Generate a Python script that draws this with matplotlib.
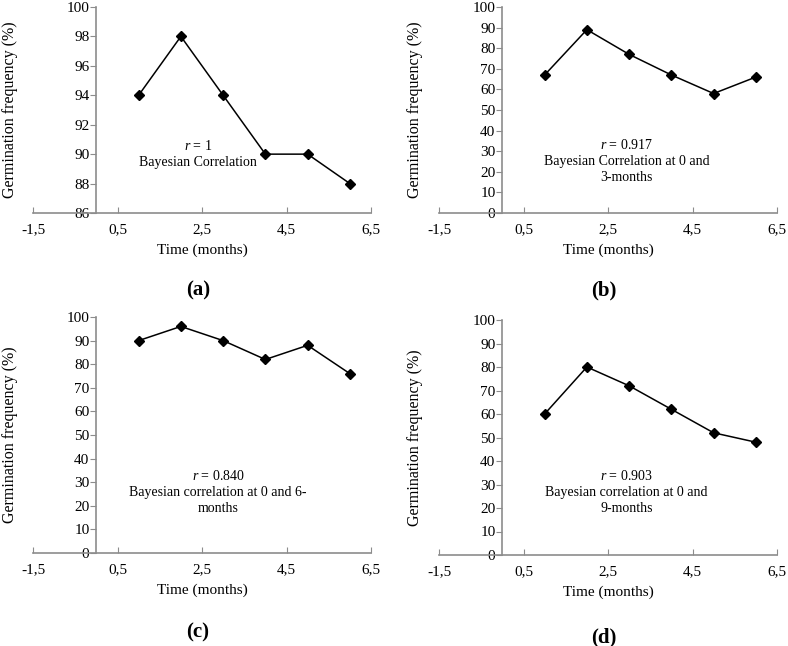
import matplotlib
matplotlib.use("Agg")
import matplotlib.pyplot as plt

plt.rcParams['font.family'] = ['Liberation Serif', 'DejaVu Serif']
plt.rcParams['mathtext.fontset'] = 'custom'
plt.rcParams['mathtext.rm'] = 'Liberation Serif'
plt.rcParams['mathtext.it'] = 'Liberation Serif:italic'

# data
months = [1, 2, 3, 4, 5, 6]
germ_a = [94, 98, 94, 90, 90, 88]
germ_b = [67, 89, 77, 67, 58, 66]
germ_c = [90, 96, 90, 82, 88, 76]
germ_d = [60, 80, 72, 62, 52, 48]

xticks = [-1.5, 0.5, 2.5, 4.5, 6.5]
xtick_labels = ["-1,5", "0,5", "2,5", "4,5", "6,5"]

notes = ["$\\it{r}$ = 1\nBayesian Correlation",
         "$\\it{r}$ = 0.917\nBayesian Correlation at 0 and\n3-months",
         "$\\it{r}$ = 0.840\nBayesian correlation at 0 and 6-\nmonths",
         "$\\it{r}$ = 0.903\nBayesian correlation at 0 and\n9-months"]
panel_tags = ["(a)", "(b)", "(c)", "(d)"]

W, H = 788, 646
fig = plt.figure(figsize=(W / 100, H / 100), dpi=100)

# axes boxes in pixels: left, top, right, bottom
boxes = [(33, 7, 371, 213), (439, 7, 777, 213),
         (33, 317, 371, 553), (439, 320, 777, 555)]
ylims = [(86, 100, 2), (0, 100, 10), (0, 100, 10), (0, 100, 10)]
series = [germ_a, germ_b, germ_c, germ_d]
note_pos = [(2.4, 90.0), (2.94, 25.2), (2.88, 25.9), (2.94, 26.8)]
tag_y = [290, 290, 632, 637]
xlab_y = [250, 250, 590, 592]
ylab_x = [10, 415, 10, 415]

gray = "#8c8c8c"

for i in range(4):
    l, t, r, b = boxes[i]
    ax = fig.add_axes([l / W, 1 - b / H, (r - l) / W, (b - t) / H])
    y0, y1, step = ylims[i]
    ax.plot(months, series[i], color="black", lw=1.1, marker="D",
            markersize=5, clip_on=False)
    ax.set_xlim(-1.5, 6.5)
    ax.set_ylim(y0, y1)
    ax.set_xticks(xticks)
    ax.set_xticklabels(xtick_labels)
    ax.set_yticks(list(range(y0, y1 + 1, step)))
    for s in ["top", "right"]:
        ax.spines[s].set_visible(False)
    ax.spines["left"].set_position(("data", 0))
    ax.spines["left"].set_color(gray)
    ax.spines["bottom"].set_color(gray)
    ax.spines["left"].set_linewidth(1.2)
    ax.spines["bottom"].set_linewidth(1.2)
    ax.tick_params(axis="x", direction="in", length=4, color=gray,
                   labelsize=11, pad=7)
    ax.tick_params(axis="y", direction="out", length=4, color=gray,
                   labelsize=11, pad=1)
    for lab in ax.get_yticklabels():
        lab.set_bbox(dict(facecolor="white", edgecolor="none", pad=0))
    ax.text(note_pos[i][0], note_pos[i][1], notes[i], ha="center",
            va="center", fontsize=10, linespacing=1.3)

    fig.text((l + 169) / W, 1 - xlab_y[i] / H, "Time (months)",
             ha="center", va="center", fontsize=11)
    fig.text(ylab_x[i] / W, 1 - (t + b) / 2 / H, "Germination frequency (%)",
             ha="center", va="center", rotation=90, fontsize=11.5)
    fig.text((l + 165) / W, 1 - tag_y[i] / H, panel_tags[i],
             ha="center", va="center", fontsize=15, fontweight="bold")

fig.savefig("out.png", dpi=100)
